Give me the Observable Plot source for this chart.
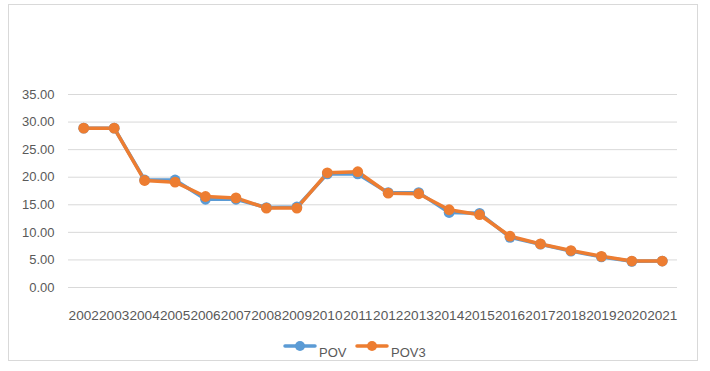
<!DOCTYPE html>
<html><head><meta charset="utf-8">
<script src="https://cdn.jsdelivr.net/npm/d3@7"></script>
<script src="https://cdn.jsdelivr.net/npm/@observablehq/plot@0.6"></script>
<style>
html,body{margin:0;padding:0;background:#fff;}
#frame{position:absolute;left:8px;top:4px;width:690px;height:357px;border:1px solid #d9d9d9;box-sizing:border-box;}
#chart{position:absolute;left:0;top:0;}
#legend{position:absolute;left:0;top:336px;width:710px;height:24px;font-family:"Liberation Sans",sans-serif;font-size:13px;color:#595959;}
.item{position:absolute;top:0;}
.item svg{position:absolute;left:0;top:4px;}
.item span{position:absolute;top:9px;white-space:nowrap;}
</style></head>
<body>
<div id="frame"></div>
<div id="chart"></div>
<div id="legend"></div>
<script>
const years = ["2002","2003","2004","2005","2006","2007","2008","2009","2010","2011","2012","2013","2014","2015","2016","2017","2018","2019","2020","2021"];
const pov  = [28.9,28.9,19.5,19.5,16.0,16.0,14.5,14.6,20.6,20.6,17.2,17.2,13.6,13.45,9.1,7.85,6.6,5.55,4.75,4.8];
const pov3 = [28.9,28.9,19.4,19.1,16.5,16.25,14.4,14.4,20.8,21.0,17.1,17.0,14.1,13.2,9.3,7.9,6.7,5.65,4.8,4.8];
const seriesNames = ["POV","POV3"];
const colors = ["#5b9bd5","#ed7d31"];
const yTicks = [0,5,10,15,20,25,30,35];

const data = [];
[pov, pov3].forEach((arr, s) => arr.forEach((v, i) => data.push({year: years[i], value: v, series: seriesNames[s]})));

const chart = Plot.plot({
  width: 710,
  height: 330,
  marginLeft: 68,
  marginRight: 33,
  marginTop: 94,
  marginBottom: 43,
  style: {fontFamily: "Liberation Sans, sans-serif", color: "#595959", background: "transparent"},
  x: {type: "point", domain: years, padding: 0.5, round: false, label: null},
  y: {domain: [0, 35], ticks: yTicks, label: null},
  color: {domain: seriesNames, range: colors},
  marks: [
    Plot.gridY(yTicks, {stroke: "#d9d9d9", strokeOpacity: 1, strokeWidth: 1}),
    Plot.axisY({ticks: yTicks, tickSize: 0, tickPadding: 14, tickFormat: d3.format(".2f"), fontSize: 13, fill: "#595959", label: null}),
    Plot.axisX({tickSize: 0, tickPadding: 23, fontSize: 13.6, fill: "#595959", label: null}),
    Plot.line(data, {x: "year", y: "value", z: "series", stroke: "series", strokeWidth: 3.5, strokeLinejoin: "round"}),
    Plot.dot(data, {x: "year", y: "value", fill: "series", r: 5.4, stroke: "none"})
  ]
});
document.getElementById("chart").appendChild(chart);

const legend = document.getElementById("legend");
const lx = [283, 355];
seriesNames.forEach((name, i) => {
  const d = document.createElement("div");
  d.className = "item";
  d.style.left = lx[i] + "px";
  d.innerHTML = `<svg width="34" height="12"><line x1="2" y1="6" x2="32" y2="6" stroke="${colors[i]}" stroke-width="3.5" stroke-linecap="round"/><circle cx="17" cy="6" r="5" fill="${colors[i]}"/></svg><span style="left:36px">${name}</span>`;
  legend.appendChild(d);
});
</script>
</body></html>
